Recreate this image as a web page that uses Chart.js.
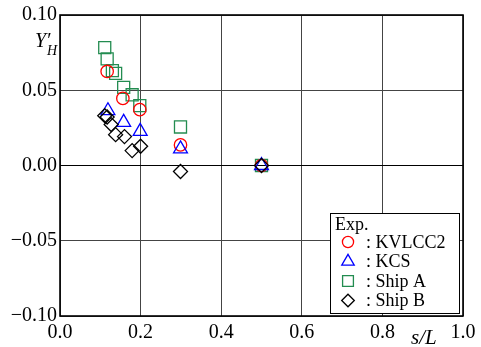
<!DOCTYPE html>
<html>
<head>
<meta charset="utf-8">
<script src="https://cdn.jsdelivr.net/npm/chart.js@4"></script>
<style>
  html, body { margin: 0; padding: 0; background: #fff; }
  #wrap { width: 481px; height: 347px; }
</style>
</head>
<body>
<div id="wrap"><canvas id="chart" width="481" height="347"></canvas></div>
<script>
// --- data ---
const xTicks = [0.0, 0.2, 0.4, 0.6, 0.8, 1.0];
const yTicks = [-0.10, -0.05, 0.00, 0.05, 0.10];

const kvlccX = [0.117, 0.156, 0.198, 0.299, 0.5];
const kvlccY = [0.0625, 0.0446, 0.0371, 0.0137, 0.0];

const kcsX = [0.119, 0.158, 0.199, 0.299, 0.5];
const kcsY = [0.0364, 0.0287, 0.0227, 0.011, 0.0];

const shipAX = [0.111, 0.117, 0.130, 0.138, 0.158, 0.179, 0.198, 0.299, 0.5];
const shipAY = [0.0783, 0.0709, 0.0630, 0.0612, 0.0519, 0.0470, 0.0398, 0.0256, 0.0];

const shipBX = [0.111, 0.117, 0.127, 0.138, 0.160, 0.179, 0.200, 0.299, 0.5];
const shipBY = [0.0331, 0.0322, 0.0272, 0.0205, 0.0192, 0.0099, 0.0128, -0.0040, 0.0];

const seriesNames = [': KVLCC2', ': KCS', ': Ship A', ': Ship B'];

const pts = (xs, ys) => xs.map((x, i) => ({ x: x, y: ys[i] }));
const serif = "'Liberation Serif', 'DejaVu Serif', serif";

// legend + axis titles + frame
const decor = {
    id: 'decor',
    afterDatasetsDraw(chart) {
        const ctx = chart.ctx;
        const a = chart.chartArea;
        ctx.save();
        // frame
        ctx.strokeStyle = '#000';
        ctx.lineWidth = 1.6;
        ctx.strokeRect(a.left, a.top, a.right - a.left, a.bottom - a.top);

        // legend box
        const lx = a.right - 133, ly = a.bottom - 103, lw = 129, lh = 100;
        ctx.fillStyle = '#fff';
        ctx.fillRect(lx, ly, lw, lh);
        ctx.lineWidth = 1;
        ctx.strokeStyle = '#000';
        ctx.strokeRect(lx + 0.5, ly + 0.5, lw, lh);

        ctx.fillStyle = '#000';
        ctx.font = '18px ' + serif;
        ctx.textBaseline = 'middle';
        ctx.textAlign = 'left';
        ctx.fillText('Exp.', lx + 5, ly + 12);
        chart.data.datasets.forEach((ds, i) => {
            const cy = ly + 29 + i * 19.5;
            ctx.fillStyle = 'rgba(0,0,0,0)';
            ctx.strokeStyle = ds.borderColor;
            ctx.lineWidth = ds.borderWidth;
            Chart.helpers.drawPoint(ctx, {
                pointStyle: ds.pointStyle,
                radius: ds.pointRadius * 0.9,
                borderWidth: ds.borderWidth,
                rotation: 0
            }, lx + 18, cy);
            ctx.fillStyle = '#000';
            ctx.fillText(seriesNames[i], lx + 36, cy + 1);
        });

        // axis titles
        ctx.fillStyle = '#000';
        ctx.textBaseline = 'alphabetic';
        ctx.font = 'italic 20px ' + serif;
        ctx.fillText('Y\u2032', 35, 47);
        ctx.font = 'italic 14px ' + serif;
        ctx.fillText('H', 47, 55);
        ctx.font = 'italic 21px ' + serif;
        ctx.fillText('s/L', 411, 344);
        ctx.restore();
    }
};

const mk = (label, data, style, color, radius, order) => ({
    label: label,
    data: data,
    pointStyle: style,
    pointRadius: radius,
    pointHoverRadius: radius,
    borderColor: color,
    backgroundColor: 'rgba(0,0,0,0)',
    borderWidth: 1.3,
    showLine: false,
    order: order
});

new Chart(document.getElementById('chart'), {
    type: 'scatter',
    data: {
        datasets: [
            mk('KVLCC2', pts(kvlccX, kvlccY), 'circle', '#ff0000', 6.2, 2),
            mk('KCS', pts(kcsX, kcsY), 'triangle', '#0000ff', 8, 1),
            mk('Ship A', pts(shipAX, shipAY), 'rect', '#238c50', 8.5, 3),
            mk('Ship B', pts(shipBX, shipBY), 'rectRot', '#000000', 7, 0)
        ]
    },
    options: {
        responsive: false,
        animation: false,
        layout: { padding: { top: 14, right: 18, left: 0, bottom: 0 } },
        plugins: { legend: { display: false }, tooltip: { enabled: false } },
        scales: {
            x: {
                type: 'linear', min: 0, max: 1,
                afterBuildTicks: s => { s.ticks = xTicks.map(v => ({ value: v })); },
                afterFit: s => { s.height = 31; },
                grid: { color: '#444', lineWidth: 1, drawTicks: false },
                border: { display: false },
                ticks: {
                    color: '#000', padding: 5,
                    font: { family: serif, size: 20 },
                    callback: v => v.toFixed(1)
                }
            },
            y: {
                type: 'linear', min: -0.1, max: 0.1,
                afterBuildTicks: s => { s.ticks = yTicks.map(v => ({ value: v })); },
                afterFit: s => { s.width = 60; },
                grid: { color: c => (c.tick && Math.abs(c.tick.value) < 1e-9) ? '#000' : '#444', lineWidth: 1, drawTicks: false },
                border: { display: false },
                ticks: {
                    color: '#000', padding: 3,
                    font: { family: serif, size: 20 },
                    callback: v => (v < 0 ? '\u2212' : '') + Math.abs(v).toFixed(2)
                }
            }
        }
    },
    plugins: [decor]
});
</script>
</body>
</html>
